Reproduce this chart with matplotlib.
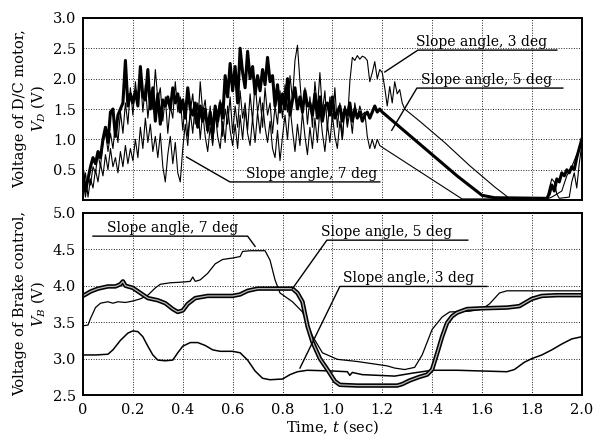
import numpy as np
import matplotlib
matplotlib.use("Agg")
import matplotlib.pyplot as plt

plt.rcParams['font.family'] = ['DejaVu Serif']
plt.rcParams['mathtext.fontset'] = 'dejavuserif'

# ---------------- data: top panel (D/C motor voltage) ----------------
t_noisy_5 = [round(0.01 * i, 2) for i in range(121)]
v_noisy_5 = [0.45, 0.15, 0.35, 0.55, 0.70, 0.60, 0.80, 0.70, 1.00, 1.20,
             0.95, 1.45, 1.50, 1.05, 1.40, 1.50, 1.60, 2.30, 1.55, 1.75,
             1.60, 1.80, 1.55, 2.20, 1.70, 1.65, 2.15, 1.50, 1.85, 1.30,
             1.75, 1.25, 1.65, 1.55, 1.70, 1.50, 1.85, 1.60, 1.75, 1.45,
             1.65, 1.35, 1.85, 1.50, 1.40, 1.60, 1.20, 1.55, 1.30, 1.50,
             1.15, 1.45, 1.10, 1.55, 1.30, 1.60, 1.35, 2.05, 1.70, 2.25,
             1.80, 2.20, 1.60, 2.50, 2.10, 1.85, 2.45, 2.00, 2.20, 1.75,
             2.05, 1.80, 2.15, 1.90, 2.35, 1.95, 2.05, 1.55, 1.90, 1.45,
             1.75, 1.50, 2.00, 1.40, 1.65, 1.85, 1.50, 1.70, 1.45, 1.80,
             1.55, 1.60, 1.40, 1.75, 1.35, 1.70, 1.30, 1.55, 1.60, 1.40,
             1.70, 1.35, 1.45, 1.55, 1.30, 1.50, 1.40, 1.60, 1.30, 1.50,
             1.35, 1.45, 1.30, 1.40, 1.45, 1.35, 1.45, 1.55, 1.45, 1.50,
             1.45]
t_tail_5 = [1.30, 1.40, 1.50, 1.60, 1.65, 1.86, 1.87, 1.88, 1.89, 1.90,
            1.91, 1.92, 1.93, 1.94, 1.95, 1.96, 1.97, 1.98, 1.99, 2.00]
v_tail_5 = [1.10, 0.75, 0.40, 0.08, 0.04, 0.03, 0.10, 0.25, 0.15, 0.35,
            0.30, 0.45, 0.40, 0.50, 0.45, 0.55, 0.50, 0.70, 0.85, 1.00]

t_noisy_3 = [round(0.01 * i, 2) for i in range(130)]
v_noisy_3 = [0.30, 0.05, 0.40, 0.25, 0.55, 0.45, 0.75, 0.55, 0.95, 1.15,
             0.80, 1.10, 0.85, 1.25, 0.95, 1.45, 1.10, 1.60, 1.25, 1.85,
             1.40, 1.95, 1.55, 2.05, 1.45, 1.90, 1.35, 1.75, 1.50, 2.15,
             1.65, 1.85, 1.30, 1.70, 1.10, 1.55, 1.35, 1.95, 1.45, 1.70,
             1.15, 1.60, 1.05, 1.45, 1.75, 1.25, 1.60, 1.00, 1.45, 1.65,
             1.10, 1.55, 0.95, 1.40, 1.20, 1.65, 1.05, 1.50, 1.25, 1.70,
             1.10, 1.55, 1.20, 1.80, 1.35, 1.60, 1.15, 1.75, 1.30, 1.95,
             1.45, 1.70, 1.20, 1.85, 1.40, 1.60, 1.10, 1.55, 1.25, 1.80,
             1.35, 1.90, 1.45, 2.05, 1.65, 2.30, 2.55, 1.95, 1.40, 1.85,
             1.25, 1.70, 1.20, 1.95, 1.50, 2.10, 1.45, 1.80, 1.15, 1.70,
             1.30, 1.85, 1.20, 1.60, 1.00, 1.55, 1.25, 1.95, 2.35, 2.30,
             2.38, 2.32, 2.37, 2.35, 2.30, 1.95, 2.10, 2.28, 2.00, 2.15,
             2.10, 1.85, 1.55, 1.87, 1.60, 1.95, 1.75, 1.82, 1.60, 1.50]
t_tail_3 = [1.35, 1.45, 1.55, 1.65, 1.71, 1.86, 1.87, 1.88, 1.89, 1.90,
            1.91, 1.95, 1.96, 1.97, 1.98, 1.99, 2.00]
v_tail_3 = [1.30, 0.95, 0.57, 0.22, 0.03, 0.03, 0.20, 0.35, 0.30, 0.10,
            0.03, 0.05, 0.30, 0.45, 0.20, 0.60, 0.90]

t_noisy_7 = [round(0.01 * i, 2) for i in range(121)]
v_noisy_7 = [0.20, 0.45, 0.05, 0.35, 0.20, 0.50, 0.30, 0.60, 0.40, 0.75,
             0.50, 0.85, 0.55, 0.70, 0.45, 0.80, 0.55, 0.90, 0.60, 0.85,
             0.65, 1.00, 0.70, 1.20, 0.85, 1.35, 0.95, 1.25, 0.80, 1.05,
             0.70, 1.10, 0.55, 0.30, 0.75, 1.05, 0.60, 0.95, 0.45, 0.30,
             0.85, 1.25, 0.90, 1.45, 1.10, 1.60, 1.20, 1.95, 1.45, 1.05,
             0.80, 1.20, 0.90, 1.45, 1.05, 0.85, 1.30, 0.95, 1.55, 1.15,
             0.90, 1.25, 0.85, 1.40, 1.00, 1.50, 1.10, 0.90, 1.35, 0.95,
             1.45, 1.10, 1.60, 1.20, 0.95, 1.30, 0.85, 0.70, 1.15, 0.65,
             1.05, 1.40, 1.00, 1.55, 1.15, 0.80, 1.25, 0.90, 1.45, 1.05,
             0.75, 1.20, 0.85, 1.35, 0.95, 1.50, 1.10, 0.80, 1.25, 0.95,
             1.40, 1.05, 0.85, 1.30, 1.00, 1.55, 1.20, 1.45, 1.10, 1.60,
             1.35, 1.55, 1.40, 1.45, 1.05, 0.85, 1.00, 0.85, 1.00, 0.90,
             0.87]
t_tail_7 = [1.52, 1.86, 1.88, 1.92, 1.94, 1.96, 1.98, 2.00]
v_tail_7 = [0.02, 0.02, 0.05, 0.15, 0.40, 0.55, 0.75, 0.95]

# ---------------- data: bottom panel (brake control voltage) ----------------
t_b5 = [0.00, 0.03, 0.06, 0.10, 0.13, 0.15, 0.16, 0.17, 0.20, 0.23, 0.26,
        0.30, 0.33, 0.36, 0.38, 0.40, 0.42, 0.45, 0.50, 0.55, 0.60, 0.63,
        0.66, 0.70, 0.75, 0.80, 0.84, 0.86, 0.88, 0.90, 0.92, 0.95, 0.98,
        1.01, 1.03, 1.10, 1.20, 1.26, 1.28, 1.31, 1.35, 1.38, 1.40, 1.42,
        1.44, 1.46, 1.48, 1.50, 1.54, 1.60, 1.70, 1.75, 1.78, 1.80, 1.84,
        1.90, 2.00]
v_b5 = [3.86, 3.92, 3.96, 3.99, 3.99, 4.02, 4.06, 4.00, 3.97, 3.90, 3.83,
        3.80, 3.76, 3.68, 3.64, 3.66, 3.75, 3.83, 3.86, 3.86, 3.86, 3.88,
        3.93, 3.96, 3.96, 3.96, 3.96, 3.90, 3.78, 3.45, 3.23, 3.00, 2.85,
        2.69, 2.64, 2.63, 2.63, 2.63, 2.65, 2.70, 2.75, 2.78, 2.85, 3.07,
        3.30, 3.49, 3.58, 3.63, 3.68, 3.69, 3.70, 3.72, 3.78, 3.82, 3.86,
        3.87, 3.87]

t_b7 = [0.00, 0.02, 0.03, 0.05, 0.07, 0.10, 0.12, 0.14, 0.17, 0.20, 0.23,
        0.26, 0.29, 0.31, 0.35, 0.40, 0.43, 0.44, 0.45, 0.47, 0.50, 0.53,
        0.56, 0.60, 0.63, 0.64, 0.67, 0.73, 0.75, 0.77, 0.79, 0.84, 0.88,
        0.92, 0.96, 1.02, 1.10, 1.22, 1.25, 1.29, 1.33, 1.36, 1.40,
        1.44, 1.47, 1.55, 1.60, 1.63, 1.67, 1.70, 2.00]
v_b7 = [3.45, 3.46, 3.55, 3.70, 3.76, 3.78, 3.76, 3.78, 3.77, 3.79, 3.82,
        3.87, 3.97, 4.02, 4.04, 4.05, 4.06, 4.12, 4.06, 4.08, 4.17, 4.30,
        4.36, 4.38, 4.40, 4.47, 4.48, 4.48, 4.35, 4.08, 3.90, 3.78, 3.64,
        3.31, 3.08, 2.99, 2.96, 2.90, 2.87, 2.85, 2.88, 3.05, 3.40,
        3.57, 3.64, 3.65, 3.68, 3.75, 3.90, 3.93, 3.93]

t_b3 = [0.00, 0.05, 0.10, 0.12, 0.15, 0.18, 0.20, 0.22, 0.24, 0.26, 0.28,
        0.30, 0.33, 0.36, 0.38, 0.40, 0.43, 0.46, 0.49, 0.52, 0.55, 0.60,
        0.63, 0.66, 0.69, 0.72, 0.75, 0.80, 0.83, 0.86, 0.90, 1.00, 1.06,
        1.07, 1.08, 1.12, 1.25, 1.32, 1.40, 1.50, 1.60, 1.70, 1.73, 1.77,
        1.80, 1.84, 1.88, 1.92, 1.96, 2.00]
v_b3 = [3.05, 3.05, 3.06, 3.12, 3.25, 3.35, 3.38, 3.37, 3.30, 3.17, 3.05,
        2.98, 2.97, 2.98, 3.08, 3.17, 3.22, 3.22, 3.18, 3.12, 3.10, 3.10,
        3.08, 2.98, 2.83, 2.73, 2.71, 2.72, 2.78, 2.82, 2.84, 2.83, 2.82,
        2.77, 2.81, 2.78, 2.76, 2.80, 2.84, 2.84, 2.83, 2.82, 2.85, 2.95,
        3.00, 3.05, 3.12, 3.20, 3.27, 3.30]

x_ticks = [0, 0.2, 0.4, 0.6, 0.8, 1.0, 1.2, 1.4, 1.6, 1.8, 2.0]
x_ticklabels = ["0", "0.2", "0.4", "0.6", "0.8", "1.0", "1.2", "1.4", "1.6", "1.8", "2.0"]
top_yticks = [0.5, 1.0, 1.5, 2.0, 2.5, 3.0]
bot_yticks = [2.5, 3.0, 3.5, 4.0, 4.5, 5.0]

label_3 = "Slope angle, 3 deg"
label_5 = "Slope angle, 5 deg"
label_7 = "Slope angle, 7 deg"

# ---------------- figure ----------------
fig = plt.figure(figsize=(5.93, 4.37), dpi=100)
ax1 = fig.add_axes([0.140, 0.542, 0.841, 0.417])
ax2 = fig.add_axes([0.140, 0.096, 0.841, 0.417])

grid_kw = dict(color='#222222', linestyle=(0, (1, 1.6)), linewidth=0.7)
FS = 10.5
FS_ANN = 10

for ax in (ax1, ax2):
    ax.set_xlim(0, 2.0)
    ax.set_xticks(x_ticks)
    ax.grid(True, **grid_kw)
    ax.set_axisbelow(True)
    ax.tick_params(length=0, labelsize=FS, pad=5)
    for s in ax.spines.values():
        s.set_linewidth(1.4)

# top panel
ax1.set_ylim(0, 3.0)
ax1.set_yticks(top_yticks)
ax1.set_yticklabels(["%.1f" % v for v in top_yticks])
ax1.set_xticklabels([])
ax1.plot(t_noisy_7 + t_tail_7, v_noisy_7 + v_tail_7, color='black', lw=0.8)
ax1.plot(t_noisy_3 + t_tail_3, v_noisy_3 + v_tail_3, color='black', lw=0.8)
ax1.plot(t_noisy_5 + t_tail_5, v_noisy_5 + v_tail_5, color='black', lw=2.2)
ax1.set_ylabel("Voltage of D/C motor,\n$V_D$ (V)", fontsize=FS, labelpad=4)

lk = dict(color='black', lw=1.0)
tk = dict(fontsize=FS_ANN, ha='center', va='bottom')
# 3 deg
ax1.plot([1.21, 1.343, 1.90], [2.11, 2.47, 2.47], **lk)
ax1.text(1.60, 2.49, label_3, **tk)
# 5 deg
ax1.plot([1.238, 1.339, 1.924], [1.15, 1.845, 1.845], **lk)
ax1.text(1.617, 1.865, label_5, **tk)
# 7 deg
ax1.plot([0.415, 0.589, 1.19], [0.71, 0.30, 0.30], **lk)
ax1.text(0.918, 0.32, label_7, **tk)

# bottom panel
ax2.set_ylim(2.5, 5.0)
ax2.set_yticks(bot_yticks)
ax2.set_yticklabels(["%.1f" % v for v in bot_yticks])
ax2.set_xticklabels(x_ticklabels)
ax2.tick_params(axis='x', pad=6)
ax2.plot(t_b3, v_b3, color='black', lw=1.1)
ax2.plot(t_b7, v_b7, color='black', lw=0.9)
ax2.plot(t_b5, v_b5, color='black', lw=3.2, solid_capstyle='butt')
ax2.plot(t_b5, v_b5, color='#b8b8b8', lw=0.9)
ax2.set_ylabel("Voltage of Brake control,\n$V_B$ (V)", fontsize=FS, labelpad=4)
ax2.set_xlabel("Time, $t$ (sec)", fontsize=FS, labelpad=1)

# 7 deg
ax2.plot([0.04, 0.66, 0.69], [4.68, 4.68, 4.54], **lk)
ax2.text(0.359, 4.70, label_7, **tk)
# 5 deg
ax2.plot([0.84, 0.978, 1.543], [3.96, 4.625, 4.625], **lk)
ax2.text(1.216, 4.645, label_5, **tk)
# 3 deg
ax2.plot([0.87, 1.03, 1.62], [2.87, 3.99, 3.99], **lk)
ax2.text(1.307, 4.01, label_3, **tk)

fig.savefig("out.png", dpi=100)
